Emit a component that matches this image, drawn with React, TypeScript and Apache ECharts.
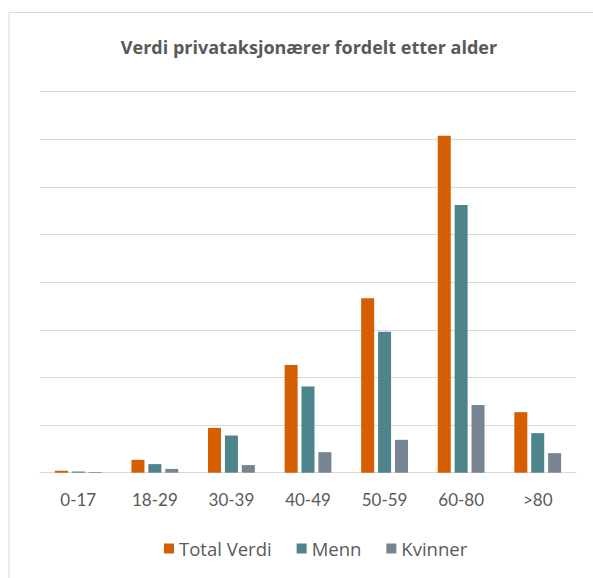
import React, { useEffect, useRef } from "react";
import * as echarts from "echarts";

const categories = ["0-17", "18-29", "30-39", "40-49", "50-59", "60-80", ">80"];
const totalVerdi = [0.4, 2.7, 9.4, 22.6, 36.6, 70.7, 12.7];
const menn = [0.25, 1.8, 7.8, 18.1, 29.6, 56.2, 8.3];
const kvinner = [0.15, 0.8, 1.6, 4.3, 6.9, 14.2, 4.1];
const seriesNames = ["Total Verdi", "Menn", "Kvinner"];
const colors = ["#D55E00", "#4E858D", "#778592"];

const FONT = "Lato";
const FONT2 = "Open Sans";

export default function App() {
  const ref = useRef<HTMLDivElement>(null);
  useEffect(() => {
    if (!ref.current) return;
    const chart = echarts.init(ref.current, undefined, { renderer: "svg" });
    const data = [totalVerdi, menn, kvinner];
    chart.setOption({
      animation: false,
      backgroundColor: "#ffffff",
      title: {
        text: "Verdi privataksjonærer fordelt etter alder",
        left: 304,
        textAlign: "center",
        top: 33,
        textStyle: { color: "#595959", fontFamily: FONT2, fontWeight: "bold", fontSize: 18 },
      },
      graphic: [
        {
          type: "rect",
          shape: { x: 9, y: 12.5, width: 700, height: 700 },
          style: { fill: "none", stroke: "#d9d9d9", lineWidth: 1 },
          silent: true,
        },
      ],
      legend: {
        bottom: 15,
        left: 159,
        itemWidth: 10,
        itemHeight: 10,
        itemGap: 25,
        icon: "rect",
        textStyle: { color: "#595959", fontFamily: FONT2, fontSize: 18.5 },
        data: seriesNames,
      },
      grid: { left: 40, right: 17, top: 91.5, bottom: 105.3 },
      xAxis: {
        type: "category",
        data: categories,
        axisLine: { lineStyle: { color: "#d9d9d9", width: 1 } },
        axisTick: { show: false },
        axisLabel: { color: "#595959", fontFamily: FONT, fontSize: 17, margin: 18 },
      },
      yAxis: {
        type: "value",
        min: 0,
        max: 80,
        interval: 10,
        axisLabel: { show: false },
        axisLine: { show: false },
        axisTick: { show: false },
        splitLine: { lineStyle: { color: "#d9d9d9", width: 1 } },
      },
      series: seriesNames.map((name, i) => ({
        name,
        type: "bar",
        data: data[i],
        barWidth: 13,
        barGap: "30%",
        itemStyle: { color: colors[i] },
      })),
    });
    return () => chart.dispose();
  }, []);
  return (
    <div
      ref={ref}
      style={{ position: "fixed", left: 0, top: 0, width: 593, height: 578 }}
    />
  );
}
